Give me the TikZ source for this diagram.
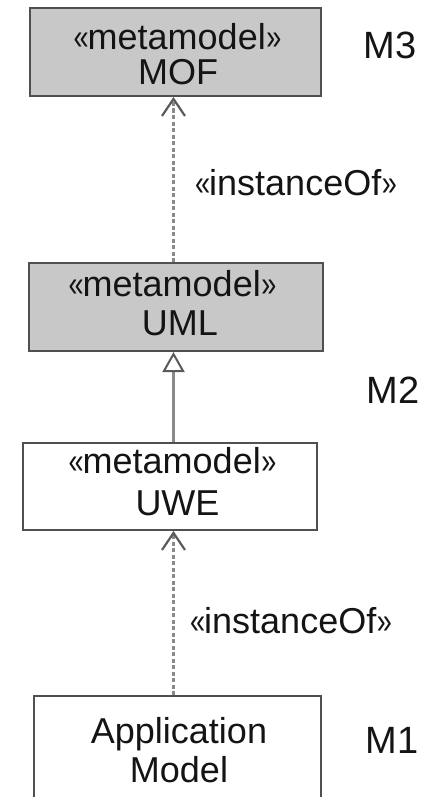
\documentclass[tikz,border=0pt]{standalone}
\usepackage{graphicx}
\usepackage{fontspec}
\setmainfont{Liberation Sans}
\usetikzlibrary{arrows.meta}
\definecolor{boxline}{HTML}{505050}
\definecolor{boxfill}{HTML}{C8C8C8}
\definecolor{conn}{HTML}{8A8A8A}
\definecolor{tipcol}{HTML}{5A5A5A}
\definecolor{txt}{HTML}{141414}
\newcommand{\glo}{\scalebox{0.75}[1]{«}\kern-1pt}
\newcommand{\grc}{\kern0.5pt\scalebox{0.75}[1]{»}}
\tikzset{
  umlbox/.style={draw=boxline, line width=2pt, rectangle, inner sep=0pt},
  meta/.style={umlbox, fill=boxfill},
  plain/.style={umlbox, fill=white},
  boxtext/.style={anchor=base, text=txt, inner sep=0pt, font=\fontsize{36}{40}\selectfont},
  lvl/.style={anchor=base, text=txt, inner sep=0pt, font=\fontsize{38}{42}\selectfont},
  deplabel/.style={anchor=base, text=txt, inner sep=0pt, font=\fontsize{36}{40}\selectfont},
  dep/.style={draw=conn, line width=2.6pt, dash pattern=on 4pt off 2.5pt,
    -{Straight Barb[length=17pt,width=23pt,line width=2.2pt,color=tipcol]}},
  gen/.style={draw=conn, line width=2.6pt,
    -{Triangle[open,length=20pt,width=22pt,line width=2pt,fill=white,color=tipcol]}},
}
\begin{document}
\begin{tikzpicture}[x=1pt,y=-1pt]
\useasboundingbox (0,0) rectangle (436,797);
\clip (0,0) rectangle (436,797);
\fill[white] (0,0) rectangle (436,797);
\coordinate (ax) at (173.5,0);
% boxes
\node[meta, minimum width=291pt, minimum height=88pt] (mof) at (175.5,52) {};
\node[meta, minimum width=294pt, minimum height=88pt] (uml) at (176,307) {};
\node[plain, minimum width=294pt, minimum height=87pt] (uwe) at (170,486.5) {};
\node[plain, minimum width=287pt, minimum height=108pt] (app) at (177.5,750) {};
% box texts
\node[boxtext] (mofst) at (177.5,50) {\glo metamodel\grc};
\node[boxtext] (mofname) at (178,85) {MOF};
\node[boxtext] (umlst) at (172.5,296) {\glo metamodel\grc};
\node[boxtext] (umlname) at (180,335) {UML};
\node[boxtext] (uwest) at (172.5,473) {\glo metamodel\grc};
\node[boxtext] (uwename) at (177.5,515) {UWE};
\node[boxtext] (appa) at (179,743) {Application};
\node[boxtext] (appb) at (179,782) {Model};
% level labels
\node[lvl] (m3) at (390,59) {M3};
\node[lvl] (m2) at (393,403) {M2};
\node[lvl] (m1) at (392,753) {M1};
% connectors
\draw[dep] (uml.north -| ax) -- (mof.south -| ax);
\draw[gen] (uwe.north -| ax) -- (uml.south -| ax);
\draw[dep] (app.north -| ax) -- (uwe.south -| ax);
% connector labels
\node[deplabel] (inst1) at (296,195) {\glo instanceOf\grc};
\node[deplabel] (inst2) at (291,633) {\glo instanceOf\grc};
\end{tikzpicture}
\end{document}
